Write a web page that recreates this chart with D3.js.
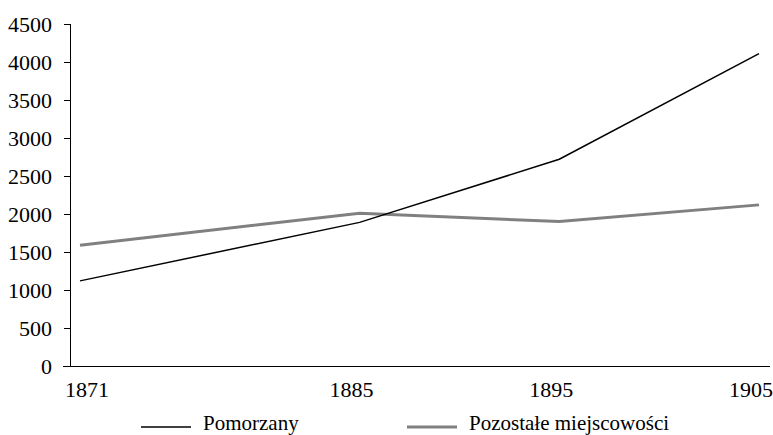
<!DOCTYPE html>
<head>
  <meta charset="utf-8">
  <script src="https://d3js.org/d3.v7.min.js"></script>
  <style>
    body { margin: 0; background: #fff; }
    .axis line { stroke: #000; stroke-width: 1px; shape-rendering: crispEdges; }
  </style>
</head>
<body>
  <svg width="773" height="435"></svg>
  <script>
  // Data
  var years = [1871, 1885, 1895, 1905];
  var pomorzany = [1120, 1890, 2720, 4110];
  var pozostale = [1590, 2010, 1900, 2120];
  var seriesNames = ["Pomorzany", "Pozostałe miejscowości"];
  var yTicks = [0, 500, 1000, 1500, 2000, 2500, 3000, 3500, 4000, 4500];

  var FONT = 'Liberation Serif';
  var svg = d3.select('svg');

  var x = d3.scaleLinear().domain([1871, 1905]).range([80, 759]);
  var y = d3.scaleLinear().domain([0, 4500]).range([366, 24]);

  // y axis
  var yAxis = d3.axisLeft(y).tickValues(yTicks).tickFormat(d3.format('d'))
    .tickSize(6).tickPadding(12).tickSizeOuter(0);
  var gy = svg.append('g').attr('class', 'axis').attr('transform', 'translate(70,0)').call(yAxis);
  gy.attr('font-family', FONT).attr('font-size', 22);
  gy.select('.domain').remove();
  gy.append('line').attr('x1', 0.5).attr('x2', 0.5).attr('y1', y(4500)).attr('y2', y(0));
  gy.selectAll('.tick text').attr('fill', '#000').attr('dy', '0.34em');

  // x axis line
  svg.append('line')
    .attr('x1', 63).attr('x2', 770)
    .attr('y1', y(0) + 0.5).attr('y2', y(0) + 0.5)
    .attr('stroke', '#000');

  // x labels
  svg.selectAll('.xlab').data(years).enter().append('text')
    .attr('class', 'xlab')
    .attr('font-family', FONT)
    .attr('font-size', 22)
    .attr('text-anchor', 'middle')
    .attr('x', function(d, i) { return x(d) + (i === 0 ? 7 : -8); })
    .attr('y', 397)
    .text(function(d) { return d; });

  var line = d3.line()
    .x(function(d, i) { return x(years[i]); })
    .y(function(d) { return y(d); });

  svg.append('path').datum(pozostale)
    .attr('d', line).attr('fill', 'none')
    .attr('stroke', '#808080').attr('stroke-width', 3);

  svg.append('path').datum(pomorzany)
    .attr('d', line).attr('fill', 'none')
    .attr('stroke', '#000').attr('stroke-width', 1.5);

  // legend
  var legend = [
    {name: seriesNames[0], color: '#000', w: 1.5, x: 141},
    {name: seriesNames[1], color: '#808080', w: 3, x: 407}
  ];
  var lg = svg.selectAll('.lg').data(legend).enter().append('g').attr('class', 'lg');
  lg.append('line')
    .attr('x1', function(d) { return d.x; })
    .attr('x2', function(d) { return d.x + 50; })
    .attr('y1', 427).attr('y2', 427)
    .attr('stroke', function(d) { return d.color; })
    .attr('stroke-width', function(d) { return d.w; });
  lg.append('text')
    .attr('font-family', FONT)
    .attr('font-size', 21)
    .attr('x', function(d) { return d.x + 62; })
    .attr('y', 430)
    .text(function(d) { return d.name; });
  </script>
</body>
